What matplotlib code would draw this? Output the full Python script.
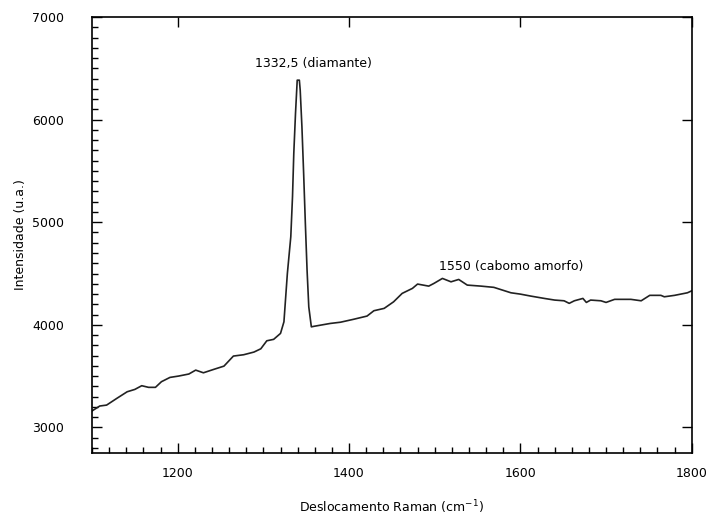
import matplotlib.pyplot as plt
from matplotlib.ticker import MultipleLocator

# espectro Raman
deslocamento = [1100, 1109, 1117, 1129, 1141, 1150, 1158, 1166, 1174, 1181,
                1191, 1201, 1213, 1221, 1230, 1242, 1254, 1265, 1277, 1289,
                1297, 1304, 1312, 1320, 1324, 1328, 1332, 1334, 1335.5, 1337.5,
                1339.5, 1342, 1343, 1345, 1347, 1349, 1351, 1353, 1356, 1359,
                1378, 1390, 1405, 1421, 1429, 1441, 1452, 1462, 1474, 1480,
                1493, 1499, 1509, 1519, 1528, 1538, 1554, 1569, 1589, 1600,
                1612, 1628, 1640, 1651, 1657, 1663, 1673, 1677, 1682, 1694,
                1700, 1710, 1729, 1741, 1751, 1764, 1768, 1780, 1795, 1800]
intensidade = [3160, 3208, 3217, 3283, 3347, 3370, 3406, 3390, 3390, 3445,
               3487, 3500, 3520, 3558, 3532, 3565, 3597, 3695, 3708, 3734,
               3766, 3844, 3858, 3916, 4029, 4500, 4858, 5248, 5671, 6060,
               6385, 6385, 6287, 5930, 5476, 4988, 4533, 4175, 3980, 3985,
               4013, 4025, 4053, 4085, 4137, 4160, 4224, 4306, 4355, 4397,
               4377, 4403, 4452, 4419, 4442, 4387, 4377, 4365, 4312, 4299,
               4280, 4257, 4241, 4234, 4209, 4234, 4257, 4218, 4241, 4234,
               4218, 4248, 4248, 4234, 4287, 4287, 4273, 4287, 4312, 4331]

rotulos = [(1358, 6550, '1332,5 (diamante)'),
           (1589, 4572, '1550 (cabomo amorfo)')]

fig = plt.figure(figsize=(7.08, 5.18), dpi=100)
ax = fig.add_axes([0.130, 0.1255, 0.847, 0.8415])

ax.plot(deslocamento, intensidade, color='#222222', linewidth=1.2)

for x, y, s in rotulos:
    ax.text(x, y, s, ha='center', va='center', fontsize=9)

ax.set_xlim(1100, 1800)
ax.set_ylim(2750, 7000)
ax.set_xticks([1200, 1400, 1600, 1800])
ax.set_yticks([3000, 4000, 5000, 6000, 7000])
ax.xaxis.set_minor_locator(MultipleLocator(20))
ax.yaxis.set_minor_locator(MultipleLocator(100))

ax.tick_params(which='major', direction='in', length=7, width=1,
               top=True, right=True, labelsize=9)
ax.tick_params(which='minor', direction='in', length=4, width=1,
               top=False, right=False)
ax.tick_params(axis='x', which='major', pad=10)
ax.tick_params(axis='y', which='major', pad=20)

for sp in ax.spines.values():
    sp.set_linewidth(1.2)

ax.set_xlabel('Deslocamento Raman (cm$^{-1}$)', fontsize=9, labelpad=13)
ax.set_ylabel('Intensidade (u.a.)', fontsize=9, labelpad=4)

fig.savefig('out.png', dpi=100)
